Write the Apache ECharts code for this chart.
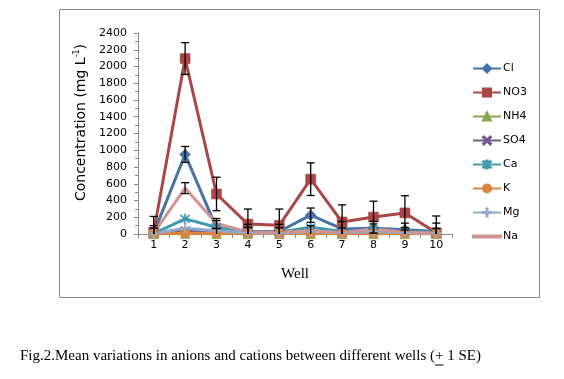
<!DOCTYPE html>
<html>
<head>
<meta charset="utf-8">
<script src="https://cdn.jsdelivr.net/npm/echarts@6/dist/echarts.min.js"></script>
<style>html,body{margin:0;padding:0;background:#fff}#c{width:564px;height:379px}</style>
</head>
<body>
<div id="c"></div>
<script>
const wells = ['1','2','3','4','5','6','7','8','9','10'];
const Cl  = [10, 950, 70, 30, 30, 225, 60, 70, 50, 30];
const NO3 = [20, 2095, 478, 118, 103, 655, 143, 202, 252, 15];
const NH4 = [2, 5, 4, 3, 3, 4, 3, 3, 3, 2];
const SO4 = [5, 40, 30, 15, 10, 30, 15, 40, 30, 10];
const Ca  = [5, 180, 80, 20, 20, 80, 30, 50, 30, 20];
const K   = [2, 10, 8, 5, 5, 8, 5, 6, 5, 4];
const Mg  = [5, 70, 40, 15, 10, 30, 15, 30, 15, 10];
const Na  = [10, 548, 125, 25, 20, 40, 15, 60, 20, 10];
const errNO3 = [190, 190, 200, 180, 195, 195, 205, 190, 205, 200];
const errCl  = [90, 95, 90, 85, 85, 85, 90, 80, 80, 100];
const errNa  = [60, 65, 60, 55, 55, 60, 55, 60, 55, 55];
const captionPre = 'Fig.2.Mean variations in anions and cations between different wells (';
const captionPm = '+';
const captionPost = ' 1 SE)';

const xPath = 'path://M1,0L5,4L9,0L10,1L6,5L10,9L9,10L5,6L1,10L0,9L4,5L0,1Z';
const astPath = 'path://M1,0L5,4L9,0L10,1L6,5L10,9L9,10L5,6L1,10L0,9L4,5L0,1Z M4.3,-1L5.7,-1L5.7,11L4.3,11Z';
const plusPath = 'path://M4.3,0L5.7,0L5.7,10L4.3,10Z M0,4.3L10,4.3L10,5.7L0,5.7Z';
const lineIcon = 'path://M0,0L28,0L28,2L0,2Z';

const defs = [
  {name:'Cl', data:Cl, color:'#4572A7', symbol:'diamond', size:11},
  {name:'NO3', data:NO3, color:'#AA4643', symbol:'rect', size:10},
  {name:'NH4', data:NH4, color:'#89A54E', symbol:'triangle', size:10},
  {name:'SO4', data:SO4, color:'#71588F', symbol:xPath, size:9},
  {name:'Ca', data:Ca, color:'#4198AF', symbol:astPath, size:10},
  {name:'K', data:K, color:'#DB843D', symbol:'circle', size:10},
  {name:'Mg', data:Mg, color:'#93A9CF', symbol:plusPath, size:10},
  {name:'Na', data:Na, color:'#D19392', symbol:'none', size:0}
];

function errSeries(vals, errs){
  return {
    type:'custom', silent:true, z:5, clip:true,
    data: vals.map((v,i)=>[i, v, errs[i]]),
    encode:{x:0, y:1},
    renderItem:function(params, api){
      const i = api.value(0), v = api.value(1), e = api.value(2);
      const top = api.coord([i, v + e]);
      const bot = api.coord([i, v - e]);
      const hw = 4;
      const st = {stroke:'#000', lineWidth:1.3};
      return {type:'group', children:[
        {type:'line', shape:{x1:top[0], y1:top[1], x2:bot[0], y2:bot[1]}, style:st},
        {type:'line', shape:{x1:top[0]-hw, y1:top[1], x2:top[0]+hw, y2:top[1]}, style:st},
        {type:'line', shape:{x1:bot[0]-hw, y1:bot[1], x2:bot[0]+hw, y2:bot[1]}, style:st}
      ]};
    }
  };
}

const series = defs.map(d => ({
  name:d.name, type:'line', data:d.data,
  symbol:d.symbol, symbolSize:d.size, showSymbol:d.symbol!=='none',
  lineStyle:{color:d.color, width:3},
  itemStyle:{color:d.color, borderColor:d.color, borderWidth:0.5},
  emphasis:{disabled:true}, z:3
}));
series.push(errSeries(NO3, errNO3));
series.push(errSeries(Cl, errCl));
series.push(errSeries(Na, errNa));

const capFont = '15px "Liberation Serif"';
const ctx = document.createElement('canvas').getContext('2d');
ctx.font = capFont;
const preW = ctx.measureText(captionPre).width;
const pmW = ctx.measureText(captionPm).width;
const capLeft = 20, capTop = 349;

const chart = echarts.init(document.getElementById('c'));
chart.setOption({
  animation:false,
  backgroundColor:'#fff',
  color: defs.map(d=>d.color),
  grid:{left:138, top:33, width:314, height:201},
  legend:{
    orient:'vertical', left:472, top:63, padding:0, itemWidth:28, itemHeight:10, itemGap:13,
    data: defs.map(d=> d.symbol==='none' ? {name:d.name, icon:lineIcon} : d.name),
    textStyle:{fontFamily:'DejaVu Sans', fontSize:11, color:'#000', padding:[0,0,0,-3]}
  },
  xAxis:{
    type:'category', data:wells, boundaryGap:true,
    name:'Well', nameLocation:'middle', nameGap:33,
    nameTextStyle:{fontFamily:'Liberation Serif', fontSize:15, color:'#000', verticalAlign:'top'},
    axisLine:{lineStyle:{color:'#868686', width:1}},
    axisTick:{show:true, inside:false, length:4, lineStyle:{color:'#868686'}},
    axisLabel:{fontFamily:'DejaVu Sans', fontSize:11, color:'#000', margin:6},
    splitLine:{show:false}
  },
  yAxis:{
    type:'value', min:0, max:2400, interval:200,
    name:'{a|Concentration (mg L}{s|-1}{a|)}', nameLocation:'middle', nameGap:45, nameRotate:90,
    nameTextStyle:{padding:[0,0,0,22], rich:{
      a:{fontFamily:'DejaVu Sans', fontSize:14, color:'#000', lineHeight:17},
      s:{fontFamily:'DejaVu Sans', fontSize:8, color:'#000', verticalAlign:'top', lineHeight:17, padding:[0,0,6,0]}
    }},
    axisLine:{show:true, lineStyle:{color:'#868686', width:1}},
    axisTick:{show:true, inside:false, length:4, lineStyle:{color:'#868686'}},
    minorTick:{show:true, splitNumber:2, length:3, lineStyle:{color:'#868686'}},
    axisLabel:{fontFamily:'DejaVu Sans', fontSize:11, color:'#000', margin:11, formatter:v=>String(v)},
    splitLine:{show:false}
  },
  graphic:[
    {type:'rect', shape:{x:59.5, y:9.5, width:480, height:288}, style:{fill:'none', stroke:'#888', lineWidth:1}, silent:true, z:-1},
    {type:'text', x:capLeft, y:capTop, style:{text:captionPre + captionPm + captionPost, font:capFont, fill:'#000'}},
    {type:'line', shape:{x1:capLeft+preW, y1:capTop+16, x2:capLeft+preW+pmW, y2:capTop+16}, style:{stroke:'#000', lineWidth:1}}
  ],
  series: series
});
</script>
</body>
</html>
